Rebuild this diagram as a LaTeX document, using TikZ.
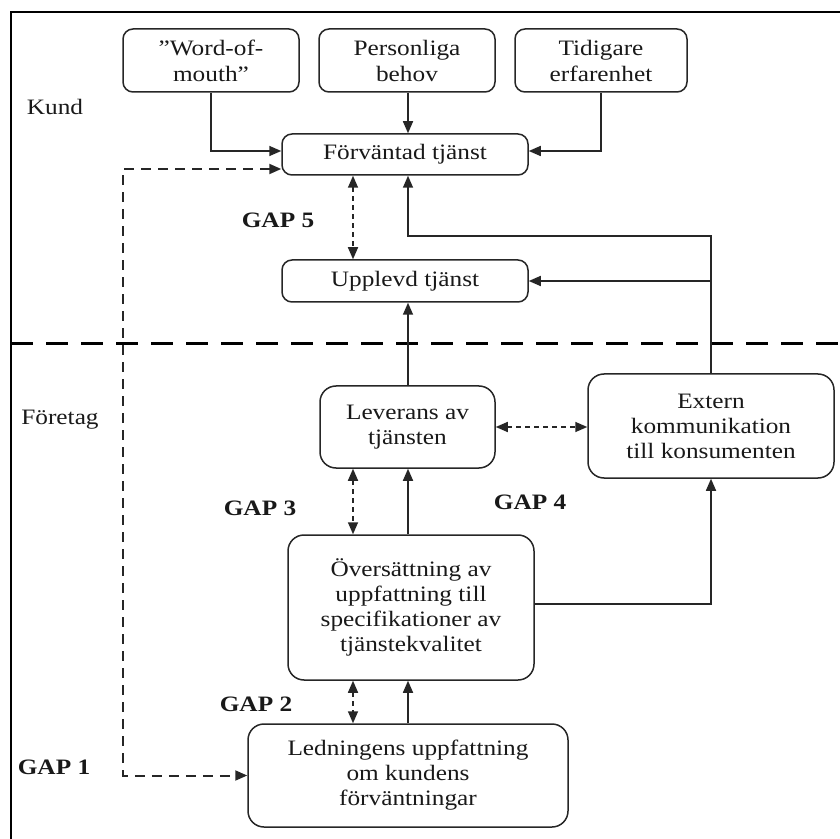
\documentclass[tikz,border=0pt]{standalone}
\usepackage{fontspec}
\setmainfont[FakeStretch=1.15]{Liberation Serif}
\usetikzlibrary{arrows.meta,calc}
\begin{document}
\begin{tikzpicture}[x=0.5pt,y=-0.5pt,
  box/.style={draw=black!85, line width=0.75pt, rounded corners=5pt, align=center,
    inner sep=0pt, font=\fontsize{11}{13}\selectfont, text=black!90},
  bigbox/.style={box, rounded corners=8pt, font=\fontsize{11}{12.5}\selectfont},
  lab/.style={inner sep=0pt, font=\fontsize{11}{12.5}\selectfont, text=black!90},
  gaplab/.style={inner sep=0pt, font=\fontsize{11}{12.5}\selectfont\bfseries, text=black!90},
  arr/.style={draw=black!85, line width=0.8pt, -{Triangle[length=6pt,width=5pt]}},
  darr/.style={draw=black!85, line width=0.8pt, dash pattern=on 2.5pt off 2pt,
    {Triangle[length=6pt,width=5pt]}-{Triangle[length=6pt,width=5pt]}},
  garr/.style={draw=black!85, line width=1pt, dash pattern=on 5pt off 3.5pt,
    {Triangle[length=6pt,width=5pt]}-{Triangle[length=6pt,width=5pt]}},
]
\useasboundingbox (0,0) rectangle (840,839);
% frame
\draw[line width=1.2pt] (11,839) -- (11,12) -- (840,12);
% separator
\draw[line width=1.5pt, dash pattern=on 11pt off 6.5pt] (11,344) -- (840,344);

% boxes
\node[box, minimum width=88pt, minimum height=31.5pt] (wom) at (211,60.5) {”Word-of-\\mouth”};
\node[box, minimum width=88pt, minimum height=31.5pt] (pers) at (407,60.5) {Personliga\\behov};
\node[box, minimum width=86pt, minimum height=31.5pt] (tid) at (601,60.5) {Tidigare\\erfarenhet};
\node[box, minimum width=123pt, minimum height=20.5pt] (forv) at (405,154.5) {Förväntad tjänst};
\node[box, minimum width=123pt, minimum height=21pt] (uppl) at (405,281) {Upplevd tjänst};
\node[bigbox, minimum width=87.5pt, minimum height=41pt] (lev) at (407.5,427) {Leverans av\\tjänsten};
\node[bigbox, minimum width=123pt, minimum height=52pt] (ext) at (711,426) {Extern\\kommunikation\\till konsumenten};
\node[bigbox, minimum width=123pt, minimum height=72.5pt] (over) at (411,607.5) {Översättning av\\uppfattning till\\specifikationer av\\tjänstekvalitet};
\node[bigbox, minimum width=160pt, minimum height=51.5pt] (led) at (408,775.5) {Ledningens uppfattning\\om kundens\\förväntningar};

% labels
\node[lab] (kund) at (55,107) {Kund};
\node[lab] (foretag) at (60,420) {Företag};
\node[gaplab] (g5) at (278,220) {GAP 5};
\node[gaplab] (g3) at (260,508) {GAP 3};
\node[gaplab] (g4) at (530,502) {GAP 4};
\node[gaplab] (g2) at (256,704) {GAP 2};
\node[gaplab] (g1) at (54,767) {GAP 1};

% helper columns/rows
\coordinate (x408) at (408,0);
\coordinate (x353) at (353,0);
\coordinate (x123) at (123,0);
\coordinate (y236) at (0,236);

% connectors
\draw[arr] (wom.south) |- ($(forv.west)+(0,-3.5)$);
\draw[arr] (pers.south -| x408) -- (forv.north -| x408);
\draw[arr] (tid.south) |- ($(forv.east)+(0,-3.5)$);
\draw[garr] ($(forv.west)+(0,14.5)$) -| (led.west -| x123) -- (led.west);
\draw[darr] (forv.south -| x353) -- (uppl.north -| x353);
\draw[arr] (ext.north) |- (y236 -| x408) -- (forv.south -| x408);
\draw[arr] (ext.north |- uppl.east) -- (uppl.east);
\draw[arr] (lev.north -| x408) -- (uppl.south -| x408);
\draw[darr] (lev.east) -- (ext.west |- lev.east);
\draw[darr] (lev.south -| x353) -- (over.north -| x353);
\draw[arr] (over.north -| x408) -- (lev.south -| x408);
\draw[arr] ($(over.east)+(0,-3.5)$) -| (ext.south);
\draw[darr] (over.south -| x353) -- (led.north -| x353);
\draw[arr] (led.north -| x408) -- (over.south -| x408);
\end{tikzpicture}
\end{document}
